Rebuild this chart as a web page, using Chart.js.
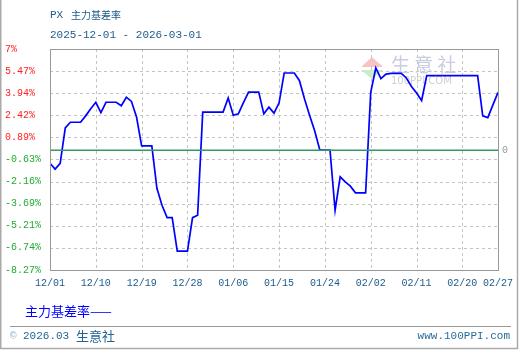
<!DOCTYPE html>
<html>
<head>
<meta charset="utf-8">
<script src="https://cdn.jsdelivr.net/npm/chart.js@4"></script>
<style>
  html, body { margin: 0; padding: 0; background: #fff; }
  #wrap { width: 520px; height: 350px; position: relative; }
</style>
</head>
<body>
<div id="wrap"><canvas id="chart" width="520" height="350"></canvas></div>
<script>
// PX 主力基差率, daily from 2025-12-01 (day 0) to 2026-02-27 (day 88)
const basisRate = [
  -0.90, -1.30, -0.90, 1.55, 1.94, 1.94, 1.94, 2.38, 2.87, 3.32,
  2.61, 3.32, 3.32, 3.32, 3.08, 3.67, 3.38, 2.30, 0.30, 0.30,
  0.30, -2.62, -3.80, -4.65, -4.65, -6.97, -6.97, -6.97, -4.65, -4.49,
  2.64, 2.64, 2.64, 2.64, 2.64, 3.61, 2.42, 2.52, 3.30, 4.02,
  4.02, 4.02, 2.52, 2.98, 2.57, 3.28, 5.34, 5.34, 5.34, 4.81,
  3.55, 2.41, 1.34, 0.02, 0.02, 0.02, -4.14, -1.83, -2.18, -2.48,
  -2.94, -2.94, -2.94, 4.00, 5.69, 4.95, 5.27, 5.31, 5.31, 5.31,
  5.00, 4.41, 3.96, 3.44, 5.16, 5.16, 5.16, 5.16, 5.16, 5.16,
  5.16, 5.16, 5.16, 5.16, 5.16, 2.38, 2.26, 3.14, 4.00
];

const xTickDays = [0, 9, 18, 27, 36, 45, 54, 63, 72, 81, 88];
const xTickLabels = ['12/01', '12/10', '12/19', '12/28', '01/06', '01/15', '01/24', '02/02', '02/11', '02/20', '02/27'];

const yTickValues = [-8.27, -6.74, -5.21, -3.69, -2.16, -0.63, 0.89, 2.42, 3.94, 5.47, 7];
const yTickLabels = ['-8.27%', '-6.74%', '-5.21%', '-3.69%', '-2.16%', '-0.63%', '0.89%', '2.42%', '3.94%', '5.47%', '7%'];

const titleCode = 'PX';
const titleName = '主力基差率';
const dateRange = '2025-12-01 - 2026-03-01';
const legendLabel = '主力基差率';

const MONO = '"Liberation Mono", "DejaVu Sans Mono", monospace';
const CJK = '"Noto Sans CJK SC", "Noto Sans", sans-serif';
const textBlue = '#1b5b8b';

// Dashed grid at the scale ticks, watermark, titles, legend, footer, frames
const decorPlugin = {
  id: 'decor',
  beforeDatasetsDraw(chart) {
    const c = chart.ctx;
    const a = chart.chartArea;
    const xs = chart.scales.x;
    const ys = chart.scales.y;
    c.save();

    // dashed grid
    c.strokeStyle = '#c4c4c4';
    c.lineWidth = 1;
    c.setLineDash([3, 3]);
    c.beginPath();
    xs.ticks.forEach(t => {
      const px = Math.round(xs.getPixelForValue(t.value)) + 0.5;
      c.moveTo(px, a.top); c.lineTo(px, a.bottom);
    });
    ys.ticks.forEach(t => {
      const py = Math.round(ys.getPixelForValue(t.value)) + 0.5;
      c.moveTo(a.left, py); c.lineTo(a.right, py);
    });
    c.stroke();
    c.setLineDash([]);

    // watermark logo
    c.fillStyle = '#f5c4c4';
    c.beginPath();
    c.moveTo(372, 57); c.lineTo(383, 67); c.lineTo(361, 67); c.closePath();
    c.fill();
    c.fillStyle = '#c9ecc9';
    c.beginPath();
    c.moveTo(361, 70); c.lineTo(383, 70); c.lineTo(372, 79); c.closePath();
    c.fill();
    c.fillStyle = '#c8cee0';
    c.font = '19px ' + CJK;
    c.textBaseline = 'middle';
    c.textAlign = 'left';
    c.fillText('生 意 社', 391, 65);
    c.fillStyle = '#cfcfcf';
    c.font = '10px "DejaVu Sans", sans-serif';
    c.fillText('100PPI.COM', 391, 81);
    c.restore();
  },
  afterDraw(chart) {
    const c = chart.ctx;
    const a = chart.chartArea;
    c.save();
    // plot frame
    c.strokeStyle = '#999';
    c.lineWidth = 1;
    c.strokeRect(Math.round(a.left) + 0.5, Math.round(a.top) + 0.5,
      Math.round(a.right - a.left), Math.round(a.bottom - a.top));

    // outer frame
    c.strokeStyle = '#aaa';
    c.lineWidth = 1.5;
    c.beginPath();
    c.moveTo(0.75, 0); c.lineTo(0.75, 348.5); c.lineTo(517.5, 348.5); c.lineTo(517.5, 0);
    c.stroke();

    // separator above footer
    c.strokeStyle = '#999';
    c.lineWidth = 1;
    c.beginPath();
    c.moveTo(10, 326.5); c.lineTo(511, 326.5);
    c.stroke();

    c.textBaseline = 'middle';
    c.textAlign = 'left';

    // titles
    c.fillStyle = textBlue;
    c.font = '11px ' + MONO;
    c.fillText(titleCode, 50, 15);
    c.font = '10px ' + CJK;
    c.fillText(titleName, 71, 15);
    c.font = '11px ' + MONO;
    c.fillText(dateRange, 50, 35);

    // legend
    c.fillStyle = '#0000ff';
    c.font = '13px ' + CJK;
    c.fillText(legendLabel + '——', 25, 311);

    // footer
    c.fillStyle = '#8fb0cc';
    c.font = '11px ' + MONO;
    c.fillText('©', 10, 336);
    c.fillStyle = '#1f6494';
    c.fillText('2026.03', 23, 336);
    c.font = '13px ' + CJK;
    c.fillText('生意社', 76, 336);
    c.font = '11px ' + MONO;
    c.textAlign = 'right';
    c.fillStyle = '#2a6c9c';
    c.fillText('www.100PPI.com', 510, 336);
    c.restore();
  }
};

const points = basisRate.map((v, i) => ({ x: i, y: v }));
const zeroLine = [{ x: xTickDays[0], y: 0 }, { x: xTickDays[xTickDays.length - 1], y: 0 }];

new Chart(document.getElementById('chart'), {
  type: 'line',
  data: {
    datasets: [{
      label: 'zero',
      data: zeroLine,
      borderColor: '#339966',
      borderWidth: 1.5,
      pointRadius: 0,
      tension: 0
    }, {
      label: legendLabel,
      data: points,
      borderColor: '#0000ff',
      borderWidth: 1.7,
      pointRadius: 0,
      tension: 0
    }]
  },
  options: {
    responsive: false,
    animation: false,
    events: [],
    layout: {
      padding: { left: 5, right: 0, top: 49, bottom: 54 }
    },
    plugins: {
      legend: { display: false },
      tooltip: { enabled: false },
      title: { display: false }
    },
    scales: {
      x: {
        type: 'linear',
        min: 0,
        max: 88,
        afterBuildTicks: (scale) => {
          scale.ticks = xTickDays.map(v => ({ value: v }));
        },
        afterFit: (scale) => { scale.height = 26; },
        ticks: {
          autoSkip: false,
          maxRotation: 0,
          padding: 7,
          color: textBlue,
          font: { family: MONO, size: 10 },
          callback: (v) => xTickLabels[xTickDays.indexOf(v)]
        },
        grid: { display: false, drawTicks: false },
        border: { display: false }
      },
      y: {
        position: 'left',
        min: -8.27,
        max: 7,
        afterBuildTicks: (scale) => {
          scale.ticks = yTickValues.map(v => ({ value: v }));
        },
        afterFit: (scale) => { scale.width = 45; },
        ticks: {
          crossAlign: 'far',
          padding: 4,
          font: { family: MONO, size: 10 },
          color: (ctx) => (ctx.tick && ctx.tick.value > 0 ? '#ff2222' : '#22aa33'),
          callback: (v) => yTickLabels[yTickValues.indexOf(v)]
        },
        grid: { display: false, drawTicks: false },
        border: { display: false }
      },
      y2: {
        position: 'right',
        min: -8.27,
        max: 7,
        afterBuildTicks: (scale) => {
          scale.ticks = [{ value: 0 }];
        },
        afterFit: (scale) => { scale.width = 20; },
        ticks: {
          padding: 4,
          color: '#999',
          font: { family: MONO, size: 10 },
          callback: () => '0'
        },
        grid: { display: false, drawTicks: false },
        border: { display: false }
      }
    }
  },
  plugins: [decorPlugin]
});
</script>
</body>
</html>
